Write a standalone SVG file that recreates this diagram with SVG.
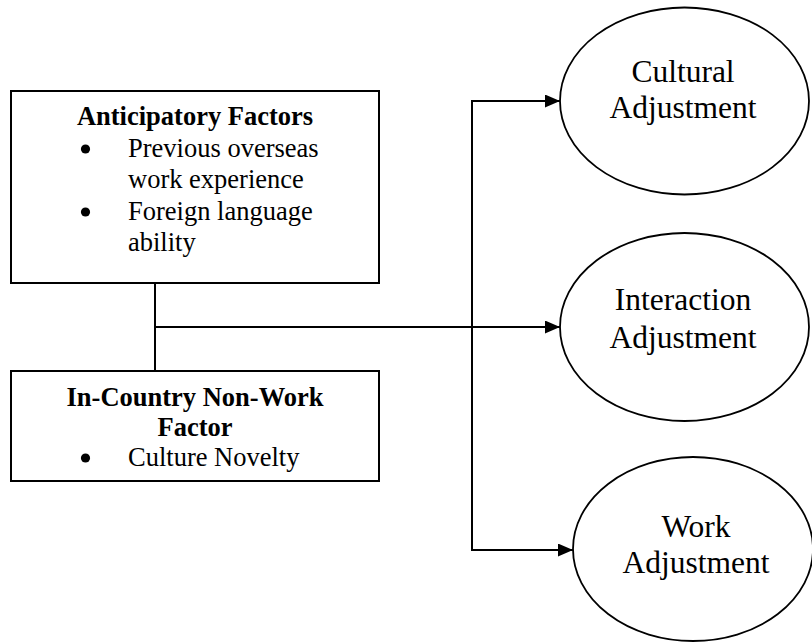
<svg xmlns="http://www.w3.org/2000/svg" width="812" height="642" viewBox="0 0 812 642">
  <style>
    .box { fill: #fff; stroke: #000; stroke-width: 2; }
    .ell { fill: #fff; stroke: #000; stroke-width: 1.8; }
    .t { font-family: "Liberation Serif", "Times New Roman", serif; fill: #000; }
    .s { font-size: 26.5px; }
    .b { font-weight: bold; }
    .e { font-size: 31.5px; }
    .line { fill: none; stroke: #000; stroke-width: 2; }
    .dot { fill: #000; }
  </style>
  <defs>
    <marker id="arrow" markerWidth="15" markerHeight="13" refX="15" refY="6.5" orient="auto" markerUnits="userSpaceOnUse">
      <path d="M0,0 L15,6.5 L0,13 Z" fill="#000"/>
    </marker>
  </defs>
  <rect width="812" height="642" fill="#fff"/>
  <g id="connectors">
    <line class="line" x1="155" y1="283" x2="155" y2="371"/>
    <line class="line" x1="155" y1="327" x2="560" y2="327" marker-end="url(#arrow)"/>
    <polyline class="line" points="472,101 472,550 573,550" marker-end="url(#arrow)"/>
    <line class="line" x1="471" y1="101" x2="560" y2="101" marker-end="url(#arrow)"/>
  </g>
  <g id="anticipatory">
    <rect class="box" x="11" y="91" width="368" height="192"/>
    <text class="t s b" x="195" y="125" text-anchor="middle">Anticipatory Factors</text>
    <circle class="dot" cx="85.5" cy="149" r="4.6"/>
    <text class="t s" x="128" y="157">Previous overseas</text>
    <text class="t s" x="128" y="188">work experience</text>
    <circle class="dot" cx="85.5" cy="212" r="4.6"/>
    <text class="t s" x="128" y="220">Foreign language</text>
    <text class="t s" x="128" y="251">ability</text>
  </g>
  <g id="incountry">
    <rect class="box" x="11" y="371" width="368" height="110"/>
    <text class="t s b" x="195" y="406" text-anchor="middle">In-Country Non-Work</text>
    <text class="t s b" x="195" y="436" text-anchor="middle">Factor</text>
    <circle class="dot" cx="85.5" cy="458" r="4.6"/>
    <text class="t s" x="128" y="466">Culture Novelty</text>
  </g>
  <g id="cultural">
    <ellipse class="ell" cx="684.5" cy="101" rx="124.5" ry="93.5"/>
    <text class="t e" x="683" y="82" text-anchor="middle">Cultural</text>
    <text class="t e" x="683" y="118" text-anchor="middle">Adjustment</text>
  </g>
  <g id="interaction">
    <ellipse class="ell" cx="684.5" cy="327" rx="124.5" ry="94"/>
    <text class="t e" x="683" y="310" text-anchor="middle">Interaction</text>
    <text class="t e" x="683" y="348" text-anchor="middle">Adjustment</text>
  </g>
  <g id="work">
    <ellipse class="ell" cx="693" cy="549" rx="120" ry="92"/>
    <text class="t e" x="696" y="537" text-anchor="middle">Work</text>
    <text class="t e" x="696" y="573" text-anchor="middle">Adjustment</text>
  </g>
</svg>
